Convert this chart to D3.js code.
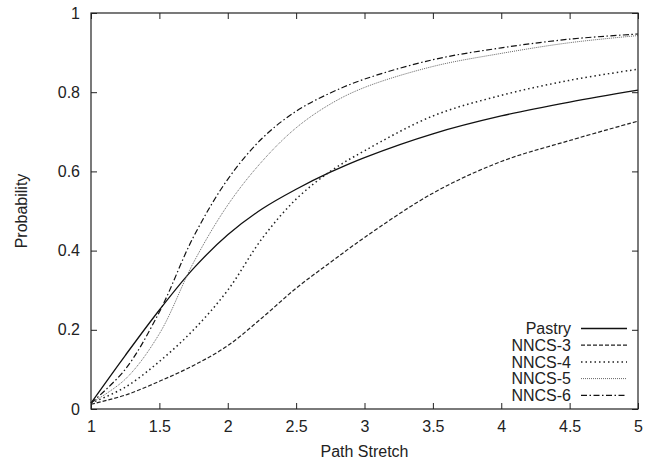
<!DOCTYPE html>
<html>
<head>
<meta charset="utf-8">
<script src="https://cdn.jsdelivr.net/npm/d3@7"></script>
<style>
  body { margin: 0; background: #fff; }
  text { font-family: "Liberation Sans", Arial, sans-serif; fill: #222; }
</style>
</head>
<body>
<div id="chart"></div>
<script>
const xValues = [1, 1.25, 1.5, 1.75, 2, 2.25, 2.5, 2.75, 3, 3.5, 4, 4.5, 5];
const pastry = [0.015, 0.135, 0.25, 0.355, 0.44, 0.505, 0.555, 0.598, 0.635, 0.695, 0.74, 0.775, 0.805];
const nncs3 = [0.012, 0.035, 0.07, 0.11, 0.16, 0.23, 0.305, 0.37, 0.433, 0.545, 0.625, 0.678, 0.727];
const nncs4 = [0.015, 0.055, 0.12, 0.20, 0.30, 0.43, 0.53, 0.60, 0.652, 0.74, 0.792, 0.83, 0.858];
const nncs5 = [0.015, 0.075, 0.19, 0.37, 0.515, 0.625, 0.71, 0.77, 0.812, 0.865, 0.898, 0.925, 0.943];
const nncs6 = [0.015, 0.10, 0.245, 0.435, 0.58, 0.683, 0.752, 0.798, 0.833, 0.882, 0.912, 0.934, 0.947];
const seriesNames = ['Pastry', 'NNCS-3', 'NNCS-4', 'NNCS-5', 'NNCS-6'];
const xTicks = [1, 1.5, 2, 2.5, 3, 3.5, 4, 4.5, 5];
const yTicks = [0, 0.2, 0.4, 0.6, 0.8, 1];

const styles = [
  { dash: null, color: '#111', width: 1.3 },
  { dash: '4,2', color: '#222', width: 1.2 },
  { dash: '1.5,3', color: '#222', width: 1.5 },
  { dash: '1,1', color: '#666', width: 1 },
  { dash: '6,2.5,1.5,2.5', color: '#111', width: 1.2 },
];

const width = 666, height = 461;
const margin = { top: 13, right: 28, bottom: 52, left: 91 };
const innerW = width - margin.left - margin.right;
const innerH = height - margin.top - margin.bottom;

const svg = d3.select('#chart').append('svg')
  .attr('width', width)
  .attr('height', height);

const g = svg.append('g')
  .attr('transform', `translate(${margin.left},${margin.top})`);

const x = d3.scaleLinear().domain([1, 5]).range([0, innerW]);
const y = d3.scaleLinear().domain([0, 1]).range([innerH, 0]);

// ticks on all four sides, pointing inward
const tick = 6;
const axisStyle = sel => {
  sel.select('.domain').remove();
  sel.selectAll('line').attr('stroke', '#222');
};
g.append('g').attr('transform', `translate(0,${innerH})`)
  .call(d3.axisBottom(x).tickValues(xTicks).tickSize(-tick).tickPadding(12).tickFormat(d3.format('')))
  .call(axisStyle);
g.append('g')
  .call(d3.axisTop(x).tickValues(xTicks).tickSize(-tick).tickFormat(''))
  .call(axisStyle);
g.append('g')
  .call(d3.axisLeft(y).tickValues(yTicks).tickSize(-tick).tickPadding(11).tickFormat(d3.format('')))
  .call(axisStyle);
g.append('g').attr('transform', `translate(${innerW},0)`)
  .call(d3.axisRight(y).tickValues(yTicks).tickSize(-tick).tickFormat(''))
  .call(axisStyle);

g.selectAll('.tick text')
  .attr('font-size', 16)
  .attr('font-family', '"Liberation Sans", Arial, sans-serif')
  .attr('fill', '#222');

const allSeries = [pastry, nncs3, nncs4, nncs5, nncs6];
const line = d3.line()
  .x((d, i) => x(xValues[i]))
  .y(d => y(d))
  .curve(d3.curveCatmullRom.alpha(0.5));

g.selectAll('.series')
  .data(allSeries)
  .join('path')
  .attr('class', 'series')
  .attr('fill', 'none')
  .attr('stroke', (d, i) => styles[i].color)
  .attr('stroke-width', (d, i) => styles[i].width)
  .attr('stroke-dasharray', (d, i) => styles[i].dash)
  .attr('d', line);

// frame
g.append('rect')
  .attr('width', innerW)
  .attr('height', innerH)
  .attr('fill', 'none')
  .attr('stroke', '#222')
  .attr('stroke-width', 1.2);

// legend
const legend = g.append('g')
  .attr('transform', `translate(${471 - margin.left + 100},${328.5 - margin.top})`);
const rows = legend.selectAll('.row')
  .data(seriesNames)
  .join('g')
  .attr('class', 'row')
  .attr('transform', (d, i) => `translate(0,${i * 16.7})`);
rows.append('text')
  .attr('text-anchor', 'end')
  .attr('dy', '0.35em')
  .attr('font-size', 16)
  .text(d => d);
rows.append('line')
  .attr('x1', 10).attr('x2', 56)
  .attr('stroke', (d, i) => styles[i].color)
  .attr('stroke-width', (d, i) => styles[i].width)
  .attr('stroke-dasharray', (d, i) => styles[i].dash);

// axis titles
svg.append('text')
  .attr('x', margin.left + innerW / 2)
  .attr('y', 457)
  .attr('text-anchor', 'middle')
  .attr('font-size', 16)
  .text('Path Stretch');
svg.append('text')
  .attr('transform', `translate(27,${margin.top + innerH / 2}) rotate(-90)`)
  .attr('text-anchor', 'middle')
  .attr('font-size', 16)
  .text('Probability');
</script>
</body>
</html>
